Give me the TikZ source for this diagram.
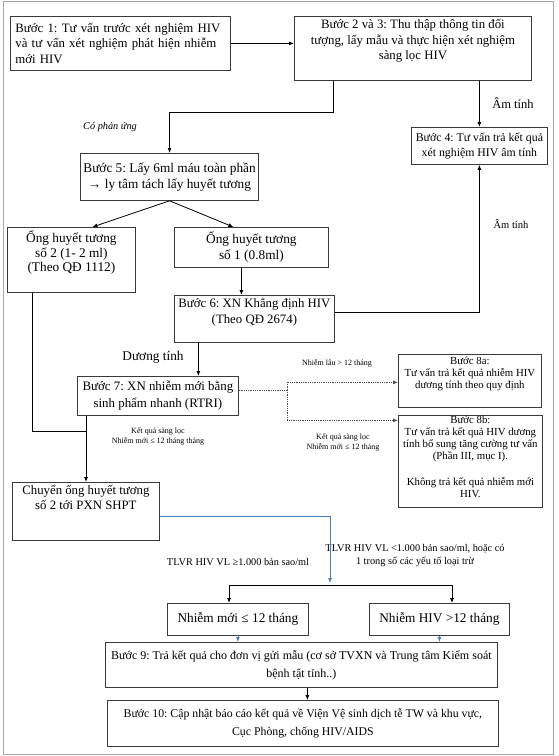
\documentclass[tikz,border=0pt]{standalone}
\usepackage{fontspec}
\setmainfont{Liberation Serif}
\usetikzlibrary{arrows.meta, positioning, calc}
\definecolor{flowblue}{HTML}{4A7EBB}
\definecolor{framegray}{HTML}{A6A6A6}
\definecolor{boxline}{HTML}{3A3A3A}
\newcommand{\szmain}{\fontsize{12.8}{15.5}\selectfont}
\newcommand{\szbig}{\fontsize{13.3}{16}\selectfont}
\newcommand{\sztube}{\fontsize{13.3}{14.8}\selectfont}
\newcommand{\szsmall}{\fontsize{11.8}{15}\selectfont}
\newcommand{\sznote}{\fontsize{10.8}{12}\selectfont}
\newcommand{\szlabel}{\fontsize{10.3}{13}\selectfont}
\newcommand{\sztiny}{\fontsize{8}{10}\selectfont}
\newcommand{\topbox}[3]{\parbox[c][#2][t]{#1}{\centering #3}}
\frenchspacing

\begin{document}
\begin{tikzpicture}[x=1pt, y=-1pt,
  flowbox/.style={rectangle, draw=boxline, line width=0.8pt, fill=white,
                  anchor=north west, inner sep=3pt, align=center},
  arr/.style={-{Latex[length=5pt,width=4pt]}, line width=0.8pt},
  bluearr/.style={arr, draw=flowblue, line width=0.7pt},
  dotarr/.style={densely dotted, line width=0.8pt, draw=black!70},
  note/.style={align=center, inner sep=0pt}]
\useasboundingbox (0,0) rectangle (558,756);
\draw[framegray, line width=0.8pt] (3,1) rectangle (553,754);

% boxes
\node[flowbox, align=left, text width=210pt, inner xsep=5pt, minimum height=54pt, font=\szmain] (step1) at (10,16)
  {Bước 1: Tư vấn trước xét nghiệm HIV\\ và tư vấn xét nghiệm phát hiện nhiễm\\ mới HIV};
\node[flowbox, font=\szmain] (step23) at (294,16)
  {\topbox{231pt}{58pt}{Bước 2 và 3: Thu thập thông tin đối\\ tượng, lấy mẫu và thực hiện xét nghiệm\\ sàng lọc HIV}};
\node[flowbox, minimum width=136pt, minimum height=37pt, font=\szsmall] (step4) at (411,127)
  {Bước 4: Tư vấn trả kết quả\\ xét nghiệm HIV âm tính};
\node[flowbox, minimum width=178pt, minimum height=47pt, font=\szbig] (step5) at (80,153)
  {Bước 5: Lấy 6ml máu toàn phần\\ → ly tâm tách lấy huyết tương};
\node[flowbox, font=\sztube] (tube2) at (7,227)
  {\topbox{122pt}{59pt}{Ống huyết tương\\ số 2 (1- 2 ml)\\ (Theo QĐ 1112)}};
\node[flowbox, minimum width=154pt, minimum height=40pt, font=\szbig] (tube1) at (174,227)
  {Ống huyết tương\\ số 1 (0.8ml)};
\node[flowbox, font=\szmain] (step6) at (174,295)
  {\topbox{154pt}{41pt}{Bước 6: XN Khẳng định HIV\\ (Theo QĐ 2674)}};
\node[flowbox, minimum width=161pt, minimum height=39pt, font=\fontsize{12.9}{17}\selectfont] (step7) at (77,376)
  {Bước 7: XN nhiễm mới bằng\\ sinh phẩm nhanh (RTRI)};
\node[flowbox, font=\fontsize{12.8}{14.5}\selectfont] (transfer) at (12,482)
  {\topbox{141pt}{52pt}{Chuyển ống huyết tương\\ số 2 tới PXN SHPT}};
\node[flowbox, font=\sznote] (step8a) at (398,354)
  {\topbox{137pt}{47pt}{Bước 8a:\\ Tư vấn trả kết quả nhiễm HIV\\ dương tính theo quy định}};
\node[flowbox, font=\sznote, inner ysep=1pt] (step8b) at (398,415)
  {\topbox{138pt}{90pt}{Bước 8b:\\ Tư vấn trả kết quả HIV dương\\ tính bổ sung tăng cường tư vấn\\ (Phần III, mục I).\\[14pt] Không trả kết quả nhiễm mới\\ HIV.}};
\node[flowbox, minimum width=141pt, minimum height=32pt, font=\szbig] (newinf) at (167,603)
  {Nhiễm mới ≤ 12 tháng};
\node[flowbox, minimum width=140pt, minimum height=32pt, font=\szbig] (oldinf) at (369,603)
  {Nhiễm HIV >12 tháng};
\node[flowbox, minimum width=392pt, minimum height=45pt, font=\fontsize{12}{18}\selectfont] (step9) at (105,642)
  {Bước 9: Trả kết quả cho đơn vị gửi mẫu (cơ sở TVXN và Trung tâm Kiểm soát\\ bệnh tật tỉnh..)};
\node[flowbox, minimum width=391pt, minimum height=46pt, font=\fontsize{11.8}{18}\selectfont] (step10) at (107,700)
  {Bước 10: Cập nhật báo cáo kết quả về Viện Vệ sinh dịch tễ TW và khu vực,\\ Cục Phòng, chống HIV/AIDS};

% labels
\node[note, font=\fontsize{12.5}{14}\selectfont] (neg1) at (513,103) {Âm tính};
\node[note, font=\fontsize{10.5}{13}\selectfont] (neg2) at (511,224) {Âm tính};
\node[note, font=\itshape\szlabel] (reactive) at (110,127) {Có phản ứng};
\node[note, font=\szbig] (positive) at (153,357) {Dương tính};
\node[note, font=\sztiny] (screen1) at (158,436) {Kết quả sàng lọc\\ Nhiễm mới ≤ 12 tháng tháng};
\node[note, font=\sztiny] (longinf) at (337,363) {Nhiễm lâu > 12 tháng};
\node[note, font=\sztiny] (screen2) at (343,442) {Kết quả sàng lọc\\ Nhiễm mới ≤ 12 tháng};
\node[note, font=\szlabel] (vlhigh) at (238,562) {TLVR HIV VL ≥1.000 bản sao/ml};
\node[note, font=\szlabel] (vllow) at (415,556) {TLVR HIV VL <1.000 bản sao/ml, hoặc có\\ 1 trong số các yếu tố loại trừ};

% connectors
\coordinate (merge) at (86,431);
\coordinate (split) at (287,390);
\coordinate (fork) at (330,583);
\coordinate (forkL) at (229,585);
\coordinate (forkR) at (452,585);
\draw[arr] (step1.east) -- (step1.east -| step23.west);
\draw[arr] (step23.south -| step4.north) -- (step4.north);
\draw[arr] ([xshift=39pt]step23.south west) |- ([yshift=41pt]step5.north) -- (step5.north);
\draw[arr] (step5.south) -- ([xshift=21pt]tube2.north);
\draw[arr] (step5.south) -- ([xshift=-18pt]tube1.north);
\draw[arr] ([xshift=-10pt]tube1.south) -- ([xshift=-10pt]tube1.south |- step6.north);
\draw[arr] ([yshift=7pt]step6.east) -| (step4.south);
\draw[arr] ([xshift=-56pt]step6.south) -- ([xshift=-56pt]step6.south |- step7.north);
\draw[line width=0.8pt] ([xshift=-39pt]tube2.south) |- (merge);
\draw[arr] (step7.south -| merge) -- (transfer.north -| merge);
\draw[dotarr] (split -| step7.east) -- (split);
\draw[dotarr, -{Latex[length=5pt,width=4pt]}] (split) |- ([yshift=-1.5pt]step8a.west);
\draw[dotarr, -{Latex[length=5pt,width=4pt]}] (split) |- ([yshift=41pt]step8b.west);
\draw[bluearr] ([yshift=-5pt]transfer.east) -| (fork);
\draw[line width=0.8pt] (forkL) -- (forkR);
\draw[arr] (forkL) -- (forkL |- newinf.north);
\draw[arr] (forkR) -- (forkR |- oldinf.north);
\draw[bluearr] (newinf.south) -- (newinf.south |- step9.north);
\draw[bluearr] (oldinf.south) -- (oldinf.south |- step9.north);
\draw[arr] ([xshift=6pt]step9.south) -- ([xshift=6pt]step9.south |- step10.north);
\end{tikzpicture}
\end{document}
